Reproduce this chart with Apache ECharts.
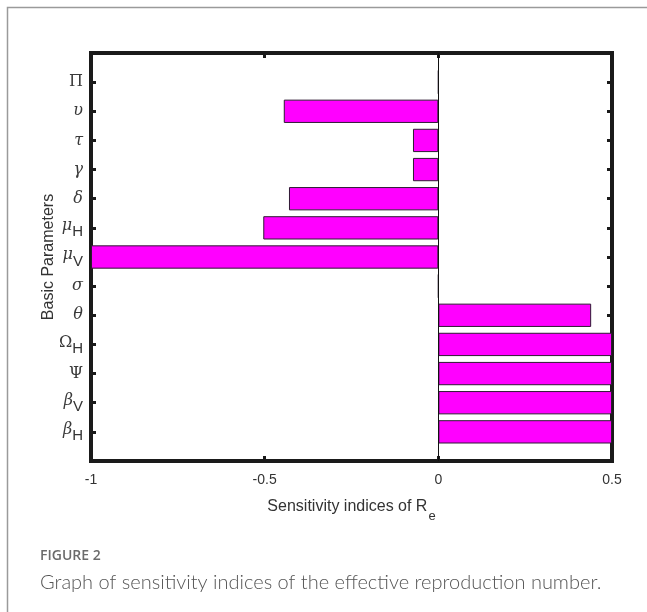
<!DOCTYPE html>
<html>
<head>
<meta charset="utf-8">
<script src="https://cdn.jsdelivr.net/npm/echarts@6/dist/echarts.min.js"></script>
<style>
html,body{margin:0;padding:0;background:#fff;}
#chart{width:647px;height:612px;}
</style>
</head>
<body>
<div id="chart"></div>
<script>
// Parameters listed top-to-bottom as in the figure
const params = ['Π','υ','τ','γ','δ','μ_H','μ_V','σ','θ','Ω_H','Ψ','β_V','β_H'];
const sensitivity = [0, -0.445, -0.073, -0.073, -0.43, -0.504, -1.0, 0, 0.44, 0.5, 0.5, 0.5, 0.5];
const xTicks = [-1, -0.5, 0, 0.5];
const uprightSymbols = ['Π','Ω','Ψ'];
const xTitle = 'Sensitivity indices of R';
const xTitleSub = 'e';
const yTitle = 'Basic Parameters';
const captionHead = 'FIGURE 2';
const captionText = 'Graph of sensitivity indices of the effective reproduction number.';

// category axis bottom-to-top with empty padding slots at both ends (MATLAB y-limits 0..14)
const cats = [''].concat(params.slice().reverse()).concat(['']);
const vals = ['-'].concat(sensitivity.slice().reverse()).concat(['-']);

function fmtLabel(v){
  if(!v) return '';
  const parts = v.split('_');
  const b = parts[0], s = parts[1];
  const up = uprightSymbols.indexOf(b) >= 0;
  if(s){
    return '{' + (up ? 'us' : 'gs') + '|' + b + '}{s|' + s + '}';
  }
  return '{' + (up ? 'u' : 'g') + '|' + b + '}';
}

const richLabel = {
  g:{fontFamily:'DejaVu Serif',fontStyle:'italic',fontSize:16,color:'#3a3a3a'},
  u:{fontFamily:'DejaVu Serif',fontSize:16,color:'#3a3a3a'},
  gs:{fontFamily:'DejaVu Serif',fontStyle:'italic',fontSize:16,color:'#3a3a3a',padding:[0,0,4,0]},
  us:{fontFamily:'DejaVu Serif',fontSize:16,color:'#3a3a3a',padding:[0,0,4,0]},
  s:{fontFamily:'Liberation Sans',fontSize:15,color:'#333',padding:[9,0,0,0]}
};

const tickStyle = {show:true,inside:true,length:5,lineStyle:{color:'#1a1a1a',width:3}};

const chart = echarts.init(document.getElementById('chart'), null, {renderer:'canvas'});
chart.setOption({
  animation:false,
  backgroundColor:'#fff',
  grid:{left:91,right:35,top:53,bottom:151,show:true,borderColor:'#1a1a1a',borderWidth:4,backgroundColor:'transparent'},
  xAxis:[{
    type:'value',min:xTicks[0],max:xTicks[xTicks.length-1],interval:0.5,position:'bottom',
    axisLine:{show:false,onZero:false},
    axisTick:tickStyle,
    splitLine:{show:false},
    axisLabel:{margin:12,fontFamily:'Liberation Sans',fontSize:14,color:'#333',
      formatter:function(v){return String(v);}},
    name:'{m|' + xTitle + '}{s|' + xTitleSub + '}',
    nameLocation:'middle',nameGap:29,
    nameTextStyle:{rich:{
      m:{fontFamily:'Liberation Sans',fontSize:16,color:'#333'},
      s:{fontFamily:'Liberation Sans',fontSize:13,color:'#333',padding:[20,0,0,1]}
    }}
  },{
    type:'value',min:xTicks[0],max:xTicks[xTicks.length-1],interval:0.5,position:'top',
    axisLine:{show:false,onZero:false},axisTick:tickStyle,axisLabel:{show:false},splitLine:{show:false}
  }],
  yAxis:[{
    type:'category',data:cats,boundaryGap:false,position:'left',
    axisLine:{show:false,onZero:false},
    axisTick:Object.assign({alignWithLabel:true},tickStyle),
    axisLabel:{margin:8,formatter:fmtLabel,rich:richLabel,interval:0},
    name:yTitle,nameLocation:'middle',nameRotate:90,nameGap:34,nameMoveOverlap:false,
    nameTextStyle:{fontFamily:'Liberation Sans',fontSize:16,color:'#333'}
  },{
    type:'category',data:cats,boundaryGap:false,position:'right',
    axisLine:{show:false,onZero:false},axisTick:tickStyle,axisLabel:{show:false}
  }],
  series:[{
    type:'bar',xAxisIndex:0,yAxisIndex:0,data:vals,barWidth:'80%',
    itemStyle:{color:'#ff00ff',borderColor:'#2e1a33',borderWidth:1},
    markLine:{silent:true,symbol:'none',label:{show:false},
      lineStyle:{color:'#111',width:1,type:'solid'},
      data:[{xAxis:0}]}
  }],
  graphic:[
    {type:'polyline',shape:{points:[[7.5,700],[7.5,7.5],[700,7.5]]},style:{stroke:'#9a9a9a',lineWidth:1.5,fill:null},silent:true},
    {type:'text',left:40,top:549,style:{text:captionHead,fontFamily:'Open Sans',fontWeight:600,fontSize:14,fill:'#6b6b6b'}},
    {type:'text',left:40,top:573,style:{text:captionText,fontFamily:'Lato',fontWeight:300,fontSize:20,fill:'#555'}}
  ]
});
</script>
</body>
</html>
